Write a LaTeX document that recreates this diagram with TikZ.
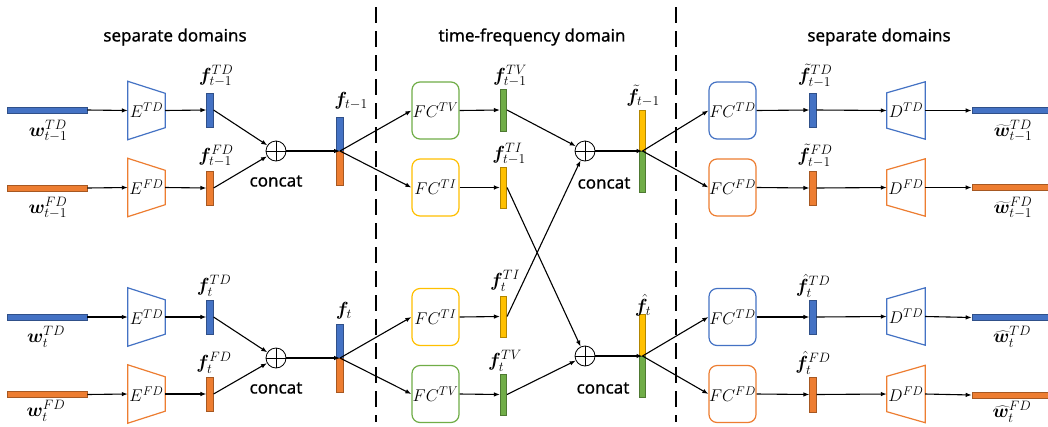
\RequirePackage{fix-cm}
\documentclass[tikz,border=0pt]{standalone}
\usepackage[no-math]{fontspec}
\usepackage{bm}
\usetikzlibrary{arrows.meta,calc}
\newfontfamily\sansf[FakeBold=0.8]{Noto Sans}
\DeclareMathSizes{17}{17}{12.6}{9}
\DeclareMathSizes{19}{19}{13.6}{10}
\definecolor{cBlue}{HTML}{4472C4}
\definecolor{cOrange}{HTML}{ED7D31}
\definecolor{cGreen}{HTML}{70AD47}
\definecolor{cGold}{HTML}{FFC000}
\newcommand\mathfs{\fontsize{17}{20}\selectfont}
\newcommand\labfs{\fontsize{19}{22}\selectfont}
\newcommand\enctrap[2]{\draw[#2, line width=1.2pt, line join=miter] (#1.north west) -- ([yshift=-12pt]#1.north east) -- ([yshift=12pt]#1.south east) -- (#1.south west) -- cycle;}
\newcommand\dectrap[2]{\draw[#2, line width=1.2pt, line join=miter] ([yshift=-11pt]#1.north west) -- (#1.north east) -- (#1.south east) -- ([yshift=11pt]#1.south west) -- cycle;}
\begin{document}
\begin{tikzpicture}[x=1pt,y=-1pt,
  arr/.style={-{Latex[length=6pt,width=4.5pt]}, line width=1.1pt},
  inbar/.style={rectangle, draw=#1!70!black, fill=#1, line width=0.6pt, minimum width=80pt, minimum height=6pt, inner sep=0pt},
  fbar/.style={rectangle, draw=#1!70!black, fill=#1, line width=0.6pt, minimum width=6.5pt, inner sep=0pt},
  fcbox/.style={rectangle, draw=#1, line width=1.2pt, rounded corners=8pt, minimum width=47pt, minimum height=57pt, inner sep=0pt, font=\mathfs},
  trap/.style={rectangle, minimum width=37pt, minimum height=58pt, inner sep=0pt, font=\mathfs},
  dtrap/.style={rectangle, minimum width=38pt, minimum height=57pt, inner sep=0pt, font=\mathfs},
  opl/.style={circle, draw, line width=0.8pt, minimum size=20pt, inner sep=0pt},
  lab/.style={font=\labfs, inner sep=0pt},
  ttl/.style={font=\sansf\fontsize{17}{20}\selectfont, inner sep=0pt},
  sep/.style={line width=2pt, dash pattern=on 16pt off 8pt},
]
\clip (0,0) rectangle (1048,426);
\fill[white] (0,0) rectangle (1048,426);

% titles
\node[ttl] (t1) at (175,37) {separate domains};
\node[ttl] (t2) at (532,37) {time-frequency domain};
\node[ttl] (t3) at (879,37) {separate domains};

% separators
\coordinate (s1a) at (376,7); \coordinate (s1b) at (376,422);
\coordinate (s2a) at (676,7); \coordinate (s2b) at (676,422);
\draw[sep] (s1a) -- (s1b);
\draw[sep] (s2a) -- (s2b);

% ===== left part =====
\node[inbar=cBlue] (in1) at (47,110) {};
\node[inbar=cOrange] (in2) at (47,188) {};
\node[inbar=cBlue] (in3) at (47,317) {};
\node[inbar=cOrange] (in4) at (47,394.5) {};

\node[trap] (e1) at (146.5,110.5) {$E^{TD}$}; \enctrap{e1}{cBlue}
\node[trap] (e2) at (146.5,187.5) {$E^{FD}$}; \enctrap{e2}{cOrange}
\node[trap] (e3) at (146.5,317) {$E^{TD}$}; \enctrap{e3}{cBlue}
\node[trap] (e4) at (146.5,394) {$E^{FD}$}; \enctrap{e4}{cOrange}

\node[fbar=cBlue, minimum height=34pt] (fb1) at (210,110) {};
\node[fbar=cOrange, minimum height=34pt] (fb2) at (210,188) {};
\node[fbar=cBlue, minimum height=34pt] (fb3) at (210,317) {};
\node[fbar=cOrange, minimum height=34pt] (fb4) at (210,394) {};

\node[opl] (o1) at (276,151) {};
\node[opl] (o2) at (276,358) {};
\draw[line width=0.8pt] (o1.north) -- (o1.south) (o1.west) -- (o1.east);
\draw[line width=0.8pt] (o2.north) -- (o2.south) (o2.west) -- (o2.east);
\node[ttl] (c1) at (276,181) {concat};
\node[ttl] (c2) at (276,388) {concat};

\node[fbar=cBlue, minimum height=34pt] (sa1) at (340,134) {};
\node[fbar=cOrange, minimum height=34pt] (sb1) at (340,168) {};
\coordinate (ft1) at (340,151);
\node[fbar=cBlue, minimum height=34pt] (sa2) at (340,341) {};
\node[fbar=cOrange, minimum height=34pt] (sb2) at (340,375) {};
\coordinate (ft2) at (340,358);

\node[lab] (lw1) at (48,131) {$\bm{w}_{t-1}^{TD}$};
\node[lab] (lw2) at (48,208) {$\bm{w}_{t-1}^{FD}$};
\node[lab] (lw3) at (46,337) {$\bm{w}_{t}^{TD}$};
\node[lab] (lw4) at (46,411) {$\bm{w}_{t}^{FD}$};
\node[lab] (lf1) at (216,76) {$\bm{f}_{t-1}^{TD}$};
\node[lab] (lf2) at (216,156) {$\bm{f}_{t-1}^{FD}$};
\node[lab] (lf3) at (214,286) {$\bm{f}_{t}^{TD}$};
\node[lab] (lf4) at (214,363) {$\bm{f}_{t}^{FD}$};
\node[lab] (ls1) at (351,101) {$\bm{f}_{t-1}$};
\node[lab] (ls2) at (344,311) {$\bm{f}_{t}$};

\draw[arr] (in1.east) -- (e1.west);
\draw[arr] (in2.east) -- (e2.west);
\draw[arr] (in3.east) -- (e3.west);
\draw[arr] (in4.east) -- (e4.west);
\draw[arr] (e1.east) -- (fb1.west);
\draw[arr] (e2.east) -- (fb2.west);
\draw[arr] (e3.east) -- (fb3.west);
\draw[arr] (e4.east) -- (fb4.west);
\draw[arr] (fb1.east) -- (o1);
\draw[arr] (fb2.east) -- (o1);
\draw[arr] (fb3.east) -- (o2);
\draw[arr] (fb4.east) -- (o2);
\draw[arr] (o1) -- (ft1);
\draw[arr] (o2) -- (ft2);

% ===== middle part =====
\node[fcbox=cGreen] (fc1) at (435.5,110.5) {$FC^{TV}$};
\node[fcbox=cGold] (fc2) at (435.5,187.5) {$FC^{TI}$};
\node[fcbox=cGold] (fc3) at (435.5,317) {$FC^{TI}$};
\node[fcbox=cGreen] (fc4) at (435.5,394) {$FC^{TV}$};

\node[fbar=cGreen, minimum height=42pt] (g1) at (503.5,110) {};
\node[fbar=cGold, minimum height=41pt] (g2) at (503.5,187.5) {};
\node[fbar=cGold, minimum height=41pt] (g3) at (503.5,316.5) {};
\node[fbar=cGreen, minimum height=41pt] (g4) at (503.5,394.5) {};

\node[opl] (o3) at (585,151) {};
\node[opl] (o4) at (585,356) {};
\draw[line width=0.8pt] (o3.north) -- (o3.south) (o3.west) -- (o3.east);
\draw[line width=0.8pt] (o4.north) -- (o4.south) (o4.west) -- (o4.east);
\node[ttl] (c3) at (604,183) {concat};
\node[ttl] (c4) at (603,388) {concat};

\node[fbar=cGold, minimum height=41pt] (ta) at (642.5,130.5) {};
\node[fbar=cGreen, minimum height=41pt] (tb) at (642.5,171.5) {};
\coordinate (tf) at (642.5,151);
\node[fbar=cGold, minimum height=42pt] (ha) at (642.5,335) {};
\node[fbar=cGreen, minimum height=41pt] (hb) at (642.5,376.5) {};
\coordinate (hf) at (642.5,356);

\node[lab] (lg1) at (510,76) {$\bm{f}_{t-1}^{TV}$};
\node[lab] (lg2) at (509,154) {$\bm{f}_{t-1}^{TI}$};
\node[lab] (lg3) at (505,281) {$\bm{f}_{t}^{TI}$};
\node[lab] (lg4) at (505,361) {$\bm{f}_{t}^{TV}$};
\node[lab] (lt) at (643,96) {$\tilde{\bm{f}}_{t-1}$};
\node[lab] (lh) at (643,305) {$\hat{\bm{f}}_{t}$};

\draw[arr] (ft1) -- (fc1.west);
\draw[arr] (ft1) -- (fc2.west);
\draw[arr] (ft2) -- (fc3.west);
\draw[arr] (ft2) -- (fc4.west);
\draw[arr] (fc1.east) -- (g1.west);
\draw[arr] (fc2.east) -- (g2.west);
\draw[arr] (fc3.east) -- (g3.west);
\draw[arr] (fc4.east) -- (g4.west);
\draw[arr] (g1.east) -- (o3);
\draw[arr] (g3.east) -- (o3);
\draw[arr] (g2.east) -- (o4);
\draw[arr] (g4.east) -- (o4);
\draw[arr] (o3) -- (tf);
\draw[arr] (o4) -- (hf);

% ===== right part =====
\node[fcbox=cBlue] (fc5) at (732.5,110.5) {$FC^{TD}$};
\node[fcbox=cOrange] (fc6) at (732.5,187.5) {$FC^{FD}$};
\node[fcbox=cBlue] (fc7) at (732.5,317) {$FC^{TD}$};
\node[fcbox=cOrange] (fc8) at (732.5,394) {$FC^{FD}$};

\node[fbar=cBlue, minimum height=34pt] (b5) at (813,110) {};
\node[fbar=cOrange, minimum height=34pt] (b6) at (813,188) {};
\node[fbar=cBlue, minimum height=34pt] (b7) at (813,317) {};
\node[fbar=cOrange, minimum height=35pt] (b8) at (813,394.5) {};

\node[dtrap] (d5) at (906,110.5) {$D^{TD}$}; \dectrap{d5}{cBlue}
\node[dtrap] (d6) at (906,187.5) {$D^{FD}$}; \dectrap{d6}{cOrange}
\node[dtrap] (d7) at (906,316.5) {$D^{TD}$}; \dectrap{d7}{cBlue}
\node[dtrap] (d8) at (906,394) {$D^{FD}$}; \dectrap{d8}{cOrange}

\node[inbar=cBlue] (out5) at (1012,110.5) {};
\node[inbar=cOrange] (out6) at (1012,187.5) {};
\node[inbar=cBlue] (out7) at (1012,317.5) {};
\node[inbar=cOrange] (out8) at (1012,395) {};

\node[lab] (lb5) at (815,76) {$\tilde{\bm{f}}_{t-1}^{TD}$};
\node[lab] (lb6) at (815,156) {$\tilde{\bm{f}}_{t-1}^{FD}$};
\node[lab] (lb7) at (813,286) {$\hat{\bm{f}}_{t}^{TD}$};
\node[lab] (lb8) at (813,363) {$\hat{\bm{f}}_{t}^{FD}$};
\node[lab] (lo5) at (1013,131) {$\widetilde{\bm{w}}_{t-1}^{TD}$};
\node[lab] (lo6) at (1013,208) {$\widetilde{\bm{w}}_{t-1}^{FD}$};
\node[lab] (lo7) at (1012,337) {$\widehat{\bm{w}}_{t}^{TD}$};
\node[lab] (lo8) at (1012,412) {$\widehat{\bm{w}}_{t}^{FD}$};

\draw[arr] (tf) -- (fc5.west);
\draw[arr] (tf) -- (fc6.west);
\draw[arr] (hf) -- (fc7.west);
\draw[arr] (hf) -- (fc8.west);
\draw[arr] (fc5.east) -- (b5.west);
\draw[arr] (fc6.east) -- (b6.west);
\draw[arr] (fc7.east) -- (b7.west);
\draw[arr] (fc8.east) -- (b8.west);
\draw[arr] (b5.east) -- (d5.west);
\draw[arr] (b6.east) -- (d6.west);
\draw[arr] (b7.east) -- (d7.west);
\draw[arr] (b8.east) -- (d8.west);
\draw[arr] (d5.east) -- (out5.west);
\draw[arr] (d6.east) -- (out6.west);
\draw[arr] (d7.east) -- (out7.west);
\draw[arr] (d8.east) -- (out8.west);
\end{tikzpicture}
\end{document}
